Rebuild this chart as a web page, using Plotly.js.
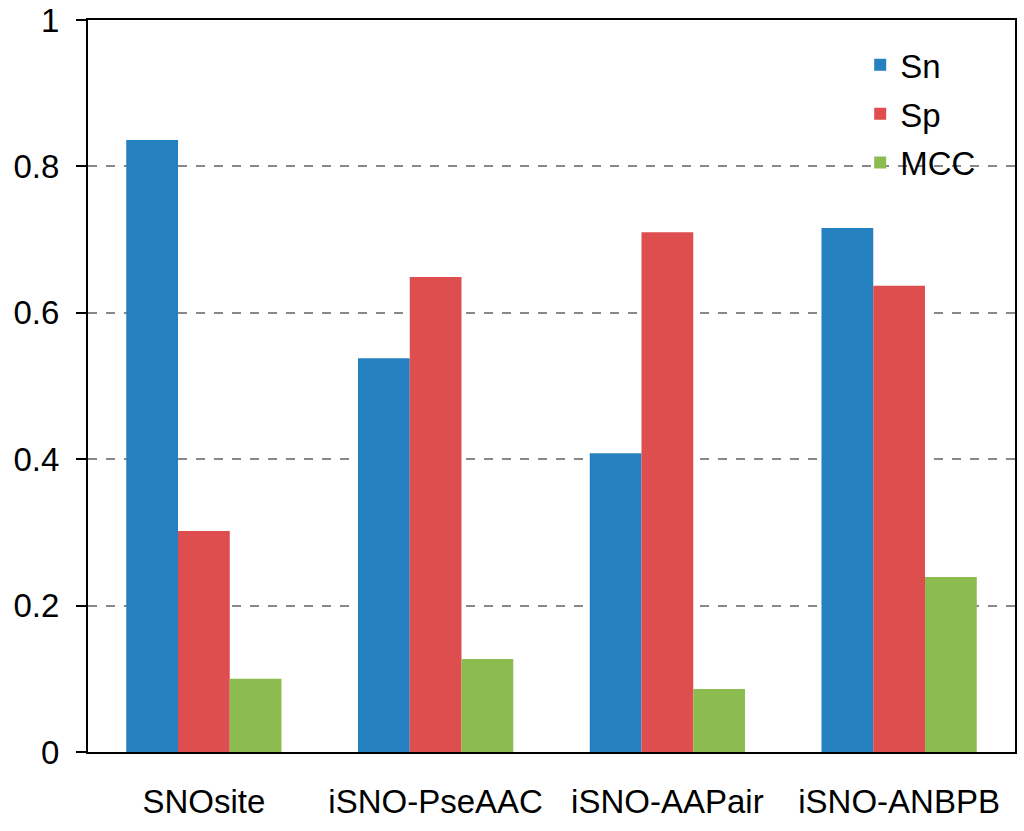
<!DOCTYPE html>
<html>
<head>
<meta charset="utf-8">
<script src="https://cdn.plot.ly/plotly-3.0.1.min.js"></script>
<style>html,body{margin:0;padding:0;background:#fff;}#chart{width:1024px;height:831px;}</style>
</head>
<body>
<div id="chart"></div>
<script>
const categories = ["SNOsite", "iSNO-PseAAC", "iSNO-AAPair", "iSNO-ANBPB"];
const snValues = [0.836, 0.538, 0.408, 0.716];
const spValues = [0.302, 0.649, 0.710, 0.637];
const mccValues = [0.100, 0.127, 0.086, 0.239];
const yTickValues = [0, 0.2, 0.4, 0.6, 0.8, 1];
const yTickLabels = ["0", "0.2", "0.4", "0.6", "0.8", "1"];

const font = {family: "Liberation Sans, Arial, sans-serif", size: 33, color: "#000"};

const traces = [
  {name: "Sn", y: snValues, color: "#2580C0", group: "a"},
  {name: "Sp", y: spValues, color: "#DE4E4E", group: "b"},
  {name: "MCC", y: mccValues, color: "#8CBB50", group: "c"}
].map(t => ({
  type: "bar", x: categories, y: t.y, name: t.name, legendgroup: t.group,
  marker: {color: t.color, line: {width: 0}}
}));

const layout = {
  width: 1024, height: 831,
  margin: {l: 88, r: 9, t: 20, b: 79},
  paper_bgcolor: "#fff", plot_bgcolor: "#fff",
  font: font,
  barmode: "group", bargap: 0.33, bargroupgap: 0,
  showlegend: true,
  legend: {x: 0.833, y: 0.977, xanchor: "left", yanchor: "top", font: font,
           bgcolor: "rgba(0,0,0,0)", traceorder: "grouped", tracegroupgap: 3},
  xaxis: {type: "category", showline: true, linecolor: "#000", linewidth: 2, mirror: true,
          ticks: "", showgrid: false, ticklabelstandoff: 19, tickfont: font, zeroline: false},
  yaxis: {range: [0, 1], tickvals: yTickValues, ticktext: yTickLabels, showline: true,
          linecolor: "#000", linewidth: 2, mirror: true, ticks: "outside", ticklen: 10, tickwidth: 2,
          tickcolor: "#000", ticklabelstandoff: 10, tickfont: font,
          showgrid: true, gridcolor: "#888", griddash: "dash", gridwidth: 2, zeroline: false}
};

Plotly.newPlot("chart", traces, layout, {displayModeBar: false});
</script>
</body>
</html>
